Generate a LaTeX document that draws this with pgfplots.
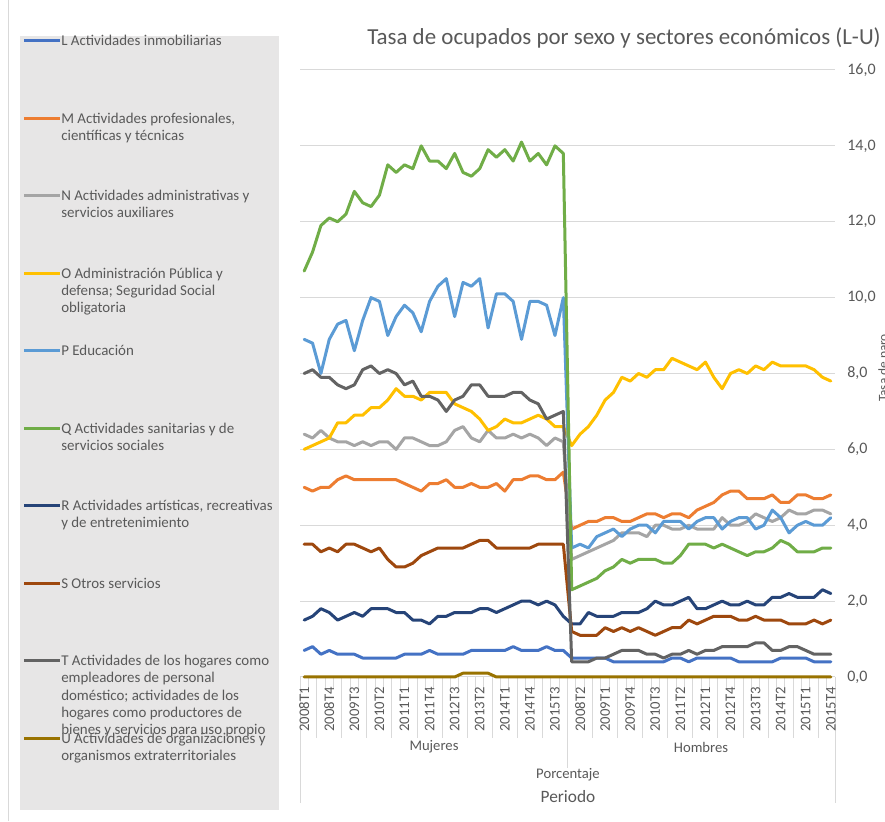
\documentclass[border=0pt]{standalone}
\usepackage{pgfplots}
\pgfplotsset{compat=1.18}
\usepackage{pgfplotstable}
\usepackage{fontspec}
\setmainfont{Carlito}

\definecolor{cL}{HTML}{4472C4}
\definecolor{cM}{HTML}{ED7D31}
\definecolor{cN}{HTML}{A5A5A5}
\definecolor{cO}{HTML}{FFC000}
\definecolor{cP}{HTML}{5B9BD5}
\definecolor{cQ}{HTML}{70AD47}
\definecolor{cR}{HTML}{264478}
\definecolor{cS}{HTML}{9E480E}
\definecolor{cT}{HTML}{636363}
\definecolor{cU}{HTML}{997300}
\definecolor{gridgray}{HTML}{D9D9D9}
\definecolor{leggray}{HTML}{E7E6E6}
\definecolor{txtgray}{HTML}{595959}

\newcommand{\legfont}{\fontsize{11.2pt}{13pt}\selectfont}

\pgfplotstableread{
idx L M N O P Q R S T U
0 0.7 5.0 6.4 6.0 8.9 10.7 1.5 3.5 8.0 0
1 0.8 4.9 6.3 6.1 8.8 11.2 1.6 3.5 8.1 0
2 0.6 5.0 6.5 6.2 8.0 11.9 1.8 3.3 7.9 0
3 0.7 5.0 6.3 6.3 8.9 12.1 1.7 3.4 7.9 0
4 0.6 5.2 6.2 6.7 9.3 12.0 1.5 3.3 7.7 0
5 0.6 5.3 6.2 6.7 9.4 12.2 1.6 3.5 7.6 0
6 0.6 5.2 6.1 6.9 8.6 12.8 1.7 3.5 7.7 0
7 0.5 5.2 6.2 6.9 9.4 12.5 1.6 3.4 8.1 0
8 0.5 5.2 6.1 7.1 10.0 12.4 1.8 3.3 8.2 0
9 0.5 5.2 6.2 7.1 9.9 12.7 1.8 3.4 8.0 0
10 0.5 5.2 6.2 7.3 9.0 13.5 1.8 3.1 8.1 0
11 0.5 5.2 6.0 7.6 9.5 13.3 1.7 2.9 8.0 0
12 0.6 5.1 6.3 7.4 9.8 13.5 1.7 2.9 7.7 0
13 0.6 5.0 6.3 7.4 9.6 13.4 1.5 3.0 7.8 0
14 0.6 4.9 6.2 7.3 9.1 14.0 1.5 3.2 7.4 0
15 0.7 5.1 6.1 7.5 9.9 13.6 1.4 3.3 7.4 0
16 0.6 5.1 6.1 7.5 10.3 13.6 1.6 3.4 7.3 0
17 0.6 5.2 6.2 7.5 10.5 13.4 1.6 3.4 7.0 0
18 0.6 5.0 6.5 7.2 9.5 13.8 1.7 3.4 7.3 0
19 0.6 5.0 6.6 7.1 10.4 13.3 1.7 3.4 7.4 0.1
20 0.7 5.1 6.3 7.0 10.3 13.2 1.7 3.5 7.7 0.1
21 0.7 5.0 6.2 6.8 10.5 13.4 1.8 3.6 7.7 0.1
22 0.7 5.0 6.5 6.5 9.2 13.9 1.8 3.6 7.4 0.1
23 0.7 5.1 6.3 6.6 10.1 13.7 1.7 3.4 7.4 0
24 0.7 4.9 6.3 6.8 10.1 13.9 1.8 3.4 7.4 0
25 0.8 5.2 6.4 6.7 9.9 13.6 1.9 3.4 7.5 0
26 0.7 5.2 6.3 6.7 8.9 14.1 2.0 3.4 7.5 0
27 0.7 5.3 6.4 6.8 9.9 13.6 2.0 3.4 7.3 0
28 0.7 5.3 6.3 6.9 9.9 13.8 1.9 3.5 7.2 0
29 0.8 5.2 6.1 6.8 9.8 13.5 2.0 3.5 6.8 0
30 0.7 5.2 6.3 6.6 9.0 14.0 1.9 3.5 6.9 0
31 0.7 5.4 6.2 6.6 10.0 13.8 1.6 3.5 7.0 0
32 0.5 3.9 3.1 6.1 3.4 2.3 1.4 1.2 0.4 0
33 0.5 4.0 3.2 6.4 3.5 2.4 1.4 1.1 0.4 0
34 0.5 4.1 3.3 6.6 3.4 2.5 1.7 1.1 0.4 0
35 0.5 4.1 3.4 6.9 3.7 2.6 1.6 1.1 0.5 0
36 0.5 4.2 3.5 7.3 3.8 2.8 1.6 1.3 0.5 0
37 0.4 4.2 3.6 7.5 3.9 2.9 1.6 1.2 0.6 0
38 0.4 4.1 3.8 7.9 3.7 3.1 1.7 1.3 0.7 0
39 0.4 4.1 3.8 7.8 3.9 3.0 1.7 1.2 0.7 0
40 0.4 4.2 3.8 8.0 4.0 3.1 1.7 1.3 0.7 0
41 0.4 4.3 3.7 7.9 4.0 3.1 1.8 1.2 0.6 0
42 0.4 4.3 4.0 8.1 3.8 3.1 2.0 1.1 0.6 0
43 0.4 4.2 4.0 8.1 4.1 3.0 1.9 1.2 0.5 0
44 0.5 4.3 3.9 8.4 4.1 3.0 1.9 1.3 0.6 0
45 0.5 4.3 3.9 8.3 4.1 3.2 2.0 1.3 0.6 0
46 0.4 4.2 4.0 8.2 3.9 3.5 2.1 1.5 0.7 0
47 0.5 4.4 3.9 8.1 4.1 3.5 1.8 1.4 0.6 0
48 0.5 4.5 3.9 8.3 4.2 3.5 1.8 1.5 0.7 0
49 0.5 4.6 3.9 7.9 4.2 3.4 1.9 1.6 0.7 0
50 0.5 4.8 4.2 7.6 3.9 3.5 2.0 1.6 0.8 0
51 0.5 4.9 4.0 8.0 4.1 3.4 1.9 1.6 0.8 0
52 0.4 4.9 4.0 8.1 4.2 3.3 1.9 1.5 0.8 0
53 0.4 4.7 4.1 8.0 4.2 3.2 2.0 1.5 0.8 0
54 0.4 4.7 4.3 8.2 3.9 3.3 1.9 1.6 0.9 0
55 0.4 4.7 4.2 8.1 4.0 3.3 1.9 1.5 0.9 0
56 0.4 4.8 4.1 8.3 4.4 3.4 2.1 1.5 0.7 0
57 0.5 4.6 4.2 8.2 4.2 3.6 2.1 1.5 0.7 0
58 0.5 4.6 4.4 8.2 3.8 3.5 2.2 1.4 0.8 0
59 0.5 4.8 4.3 8.2 4.0 3.3 2.1 1.4 0.8 0
60 0.5 4.8 4.3 8.2 4.1 3.3 2.1 1.4 0.7 0
61 0.4 4.7 4.4 8.1 4.0 3.3 2.1 1.5 0.6 0
62 0.4 4.7 4.4 7.9 4.0 3.4 2.3 1.4 0.6 0
63 0.4 4.8 4.3 7.8 4.2 3.4 2.2 1.5 0.6 0
}\datatable

% legend helpers (pixel coordinates, y measured from top)
\newcommand{\LS}[2]{\draw[#2, line width=2.25pt] (24,{821-#1}) -- (60,{821-#1});}
\newcommand{\LT}[2]{\node[anchor=base west, inner sep=0pt, font=\legfont, text=txtgray] at (61,{816.2-#1}) {#2};}

\begin{document}
\begin{tikzpicture}[x=0.75pt, y=0.75pt]
\fill[white] (0,0) rectangle (885,821);
\draw[gridgray, line width=0.75pt] (8,0) -- (8,821);
\fill[leggray] (20,{821-36}) rectangle (279,{821-810});

% legend
\LS{41}{cL}   \LT{41}{L Actividades inmobiliarias}
\LS{118.5}{cM} \LT{118.5}{M Actividades profesionales,} \LT{135.7}{científicas y técnicas}
\LS{196}{cN}  \LT{196}{N Actividades administrativas y} \LT{213.2}{servicios auxiliares}
\LS{273.5}{cO} \LT{273.5}{O Administración Pública y} \LT{290.7}{defensa; Seguridad Social} \LT{307.9}{obligatoria}
\LS{351}{cP}  \LT{351}{P Educación}
\LS{428.5}{cQ} \LT{428.5}{Q Actividades sanitarias y de} \LT{445.7}{servicios sociales}
\LS{506}{cR}  \LT{506}{R Actividades artísticas, recreativas} \LT{523.2}{y de entretenimiento}
\LS{583.5}{cS} \LT{583.5}{S Otros servicios}
\LS{661}{cT}  \LT{661}{T Actividades de los hogares como} \LT{678.2}{empleadores de personal} \LT{695.4}{doméstico; actividades de los} \LT{712.6}{hogares como productores de} \LT{729.8}{bienes y servicios para uso propio}
\LS{738.5}{cU} \LT{738.5}{U Actividades de organizaciones y} \LT{755.7}{organismos extraterritoriales}

% title
\node[anchor=west, inner sep=0pt, font=\fontsize{17.2pt}{20pt}\selectfont, text=txtgray] at (367,{821-38}) {Tasa de ocupados por sexo y sectores económicos (L-U)};

% category axis separators (pixel coordinates)
\foreach \k in {0,...,64} {\draw[gridgray, line width=0.75pt] ({300+8.359375*\k},144) -- ++(0,-12);}
\foreach \k in {2,5,...,62} {\draw[gridgray, line width=0.75pt] ({300+8.359375*\k},144) -- ++(0,-61);}
\draw[gridgray, line width=0.75pt] (567.5,144) -- ++(0,-91);
\draw[gridgray, line width=0.75pt] (300,144) -- ++(0,-126);
\draw[gridgray, line width=0.75pt] (835,144) -- ++(0,-126);

\begin{axis}[
  at={(225pt,108pt)}, anchor=south west, scale only axis,
  width=401.25pt, height=455.25pt,
  xmin=-0.5, xmax=63.5, ymin=0, ymax=16,
  clip=false,
  axis x line=bottom, axis y line=right,
  axis line style={-},
  x axis line style={-, draw=gridgray, line width=0.75pt},
  y axis line style={draw=none},
  major tick length=0pt,
  ytick={0,2,...,16},
  ymajorgrids, grid style={gridgray, line width=0.75pt},
  /pgf/number format/fixed, /pgf/number format/fixed zerofill,
  /pgf/number format/precision=1, /pgf/number format/use comma,
  /pgf/number format/assume math mode=true,
  yticklabel style={anchor=west, inner sep=0pt, xshift=9pt, font=\fontsize{12pt}{14pt}\selectfont, text=txtgray},
  xtick={0,3,...,63},
  xticklabels={2008T1,2008T4,2009T3,2010T2,2011T1,2011T4,2012T3,2013T2,2014T1,2014T4,2015T3,2008T2,2009T1,2009T4,2010T3,2011T2,2012T1,2012T4,2013T3,2014T2,2015T1,2015T4},
  xticklabel style={rotate=90, anchor=east, inner sep=0pt, font=\fontsize{11pt}{13pt}\selectfont, text=txtgray},
  xticklabel shift=7.5pt,
  every axis plot/.append style={line width=2.25pt, line join=round, line cap=round, mark=none},
]
\addplot[cL] table[x=idx, y=L] {\datatable};
\addplot[cM] table[x=idx, y=M] {\datatable};
\addplot[cN] table[x=idx, y=N] {\datatable};
\addplot[cO] table[x=idx, y=O] {\datatable};
\addplot[cP] table[x=idx, y=P] {\datatable};
\addplot[cQ] table[x=idx, y=Q] {\datatable};
\addplot[cR] table[x=idx, y=R] {\datatable};
\addplot[cS] table[x=idx, y=S] {\datatable};
\addplot[cT] table[x=idx, y=T] {\datatable};
\addplot[cU] table[x=idx, y=U] {\datatable};
\end{axis}

% multi-level category labels and axis titles
\node[font=\fontsize{11pt}{13pt}\selectfont, text=txtgray] at (434,{821-747}) {Mujeres};
\node[font=\fontsize{11pt}{13pt}\selectfont, text=txtgray] at (701,{821-747}) {Hombres};
\node[font=\fontsize{11pt}{13pt}\selectfont, text=txtgray] at (568,{821-775}) {Porcentaje};
\node[font=\fontsize{13pt}{15pt}\selectfont, text=txtgray] at (568,{821-797}) {Periodo};
\node[rotate=90, font=\fontsize{10pt}{12pt}\selectfont, text=txtgray] at (884,{821-368}) {Tasa de paro};

\pgfresetboundingbox
\path[use as bounding box] (0,0) rectangle (885,821);
\end{tikzpicture}
\end{document}
